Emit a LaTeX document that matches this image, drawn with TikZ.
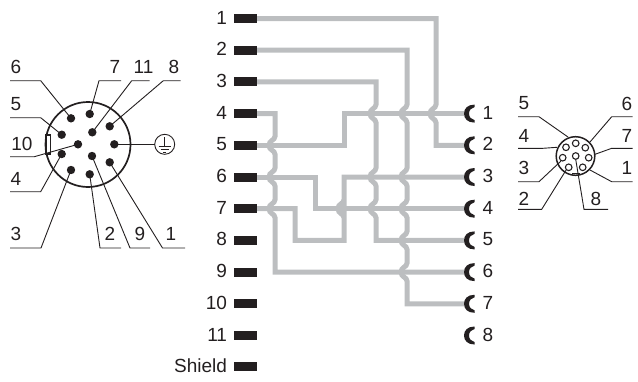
\documentclass[tikz,border=0pt]{standalone}
\usepackage{fontspec}
\setmainfont{Liberation Sans}
\definecolor{ink}{HTML}{231F20}
\definecolor{wire}{HTML}{BCBEC0}
\tikzset{
  pinbar/.style={fill=ink,minimum width=23pt,minimum height=9pt,inner sep=0pt,outer sep=0pt},
  sockbox/.style={minimum width=11pt,minimum height=18pt,inner sep=0pt,outer sep=0pt},
  lab/.style={font=\fontsize{19}{19}\selectfont,text=ink,inner sep=0pt,outer sep=0pt},
  wireline/.style={draw=wire,line width=5pt,line join=miter},
  leader/.style={draw=ink,line width=0.9pt},
  bigpin/.style={circle,fill=ink,minimum size=8.4pt,inner sep=0pt,outer sep=0pt},
  smallpin/.style={circle,draw=ink,fill=white,line width=1.1pt,minimum size=6.6pt,inner sep=0pt,outer sep=0pt}
}
\def\hp#1#2{-- (#1,#2-9) .. controls (#1,#2-5) and (#1-6,#2-5) .. (#1-6,#2) .. controls (#1-6,#2+5) and (#1,#2+5) .. (#1,#2+9)}
\begin{document}
\begin{tikzpicture}[x=1pt,y=-1pt]
\useasboundingbox (0,0) rectangle (638,381);
% left pin row
\foreach \i/\y/\t in {1/18.5/1,2/50.2/2,3/81.9/3,4/113.6/4,5/145.3/5,6/177/6,7/208.7/7,8/240.4/8,9/272.1/9,10/303.8/10,11/335.5/11,12/366.8/Shield}{
  \node[pinbar] (p\i) at (245.5,\y) {};
  \node[lab,anchor=east] (pl\i) at (227,\y-1) {\t};
}
% wires
\draw[wireline] (p1.east) -- (436,18.5) \hp{436}{113.6} -- (436,145.3) -- (464,145.3);
\draw[wireline] (p2.east) -- (407,50.2) \hp{407}{113.6} \hp{407}{177} \hp{407}{208.7} \hp{407}{240.4} \hp{407}{272.1} -- (407,303.8) -- (464,303.8);
\draw[wireline] (p3.east) -- (376,81.9) \hp{376}{113.6} \hp{376}{177} \hp{376}{208.7} -- (376,240.4) -- (464,240.4);
\draw[wireline] (p4.east) -- (275,113.6) \hp{275}{145.3} \hp{275}{177} \hp{275}{208.7} -- (275,272.1) -- (464,272.1);
\draw[wireline] (p5.east) -- (344,145.3) -- (344,113.6) -- (464,113.6);
\draw[wireline] (p6.east) -- (315,177) -- (315,208.7) -- (464,208.7);
\draw[wireline] (p7.east) -- (295,208.7) -- (295,240.4) -- (344,240.4) \hp{344}{208.7} -- (344,177) -- (464,177);
% sockets
\foreach \i/\y in {1/113.6,2/145.3,3/177,4/208.7,5/240.4,6/272.1,7/303.8,8/335.5}{
  \node[sockbox] (s\i) at (469.5,\y) {};
  \fill[ink,shift={(s\i.center)}] (5,-9) .. controls (-2,-9) and (-5.5,-5) .. (-5.5,0) .. controls (-5.5,5) and (-2,9) .. (5,9) -- (5,6.5) .. controls (2,6) and (-0.5,3.5) .. (-0.5,0) .. controls (-0.5,-3.5) and (2,-6) .. (5,-6.5) -- cycle;
  \node[lab] (sl\i) at (488,\y-1) {\i};
}
% left connector
\draw[ink,line width=1.7pt] (88,144.5) circle (42.5);
\draw[ink,line width=1.2pt,fill=white] (46,135) rectangle (50.5,154);
\foreach \n/\x/\y in {6/71/118.3,7/89.7/114,11/92.3/132.3,8/109.7/126.3,5/61.7/134.7,10/78/144.3,pe/114.3/144.3,4/61.7/154,9/92/156,1/109.7/162.3,3/71/170,2/89.7/174.3}{
  \node[bigpin] (a\n) at (\x,\y) {};
}
\foreach \n/\a/\b/\c/\d/\e in {6/10/80.7/40.7/80.7/a,7/121/80.7/99/80.7/a,11/149.5/80.7/131.7/80.7/a,8/180.5/80.7/163.3/80.7/a,5/10/117.7/40.7/117.7/a,10/10/156.7/34.3/156.7/a,4/10/191.7/40.7/191.7/a,3/10/248/41/248/a,2/121/248/100/248/a,9/150/248/130/248/a,1/185/248/162.5/248/a}{
  \draw[leader] (\a,\b) -- (\c,\d) -- (\e\n.center);
}
\foreach \n/\x/\y in {6/16/67,7/115/67,11/143.5/67,8/174/67,5/16/104,10/22/143.5,4/16/178.5,3/16/234,2/110/234,9/140/234,1/171/234}{
  \node[lab] (l\n) at (\x,\y) {\n};
}
% earth symbol
\node[circle,draw=ink,line width=0.9pt,minimum size=20pt,inner sep=0pt,outer sep=0pt] (g) at (164.7,144.3) {};
\draw[leader] (ape.center) -- (g.west);
\draw[leader] (164.7,137) -- (164.7,146) (158.7,146) -- (170.7,146) (160.7,149) -- (168.7,149) (163,152) -- (166.4,152);
% right connector
\draw[ink,line width=1.5pt] (575.5,156) circle (19.3);
\foreach \n/\x/\y in {5/566/147.3,6/585.3/147.7,4/575.7/143.3,3/562.7/157.7,7/588.7/157.7,8/575.7/156,2/568.7/167.3,1/582.7/167.3}{
  \node[smallpin] (b\n) at (\x,\y) {};
}
\draw[leader] (518,116.7) -- (539,116.7) -- (568,137);
\draw[leader] (632.7,116.7) -- (611.7,116.7) -- (590,142);
\draw[leader] (518,148.3) -- (543,148.3) -- (557,147.3);
\draw[leader] (632.7,148.3) -- (611.7,148.3) -- (594.5,154.5);
\draw[leader] (518,181.7) -- (539,181.7) -- (561,161);
\draw[leader] (632.7,181.7) -- (611.7,181.7) -- (590,170);
\draw[leader] (518,209.3) -- (541.7,209.3) -- (b2.south west);
\draw[leader] (608,209.3) -- (584,209.3) -- (b8.south);
\draw[ink,line width=1.1pt] (572,173.5) -- (580,173.5);
\foreach \n/\x/\y in {5/524/103.5,6/627/103.5,4/524/135.5,7/627/135.5,3/524/168,1/627/168,2/524/198.5,8/596/198.5}{
  \node[lab] (m\n) at (\x,\y) {\n};
}
\end{tikzpicture}
\end{document}
